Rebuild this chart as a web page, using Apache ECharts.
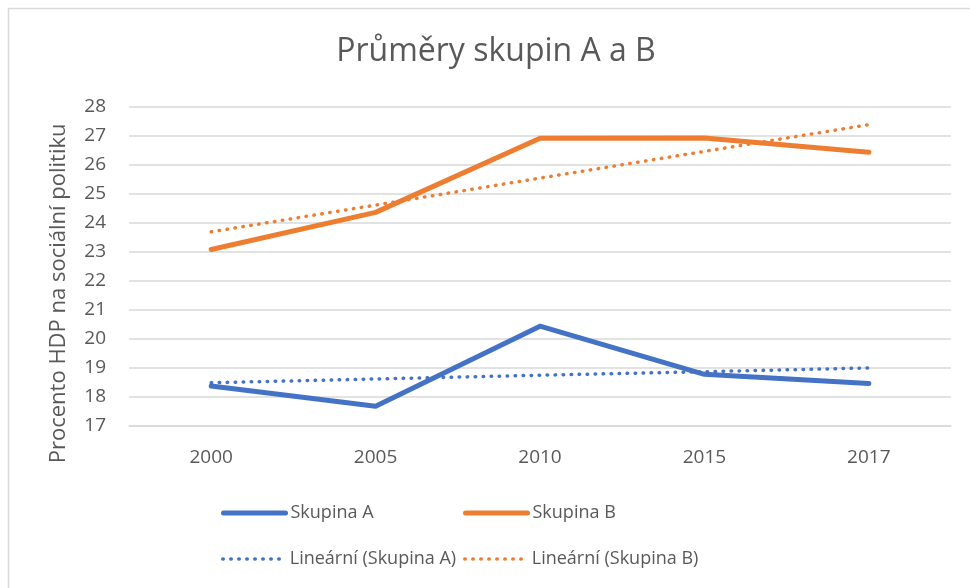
<!DOCTYPE html>
<html><head><meta charset="utf-8">
<script src="https://cdn.jsdelivr.net/npm/echarts@6/dist/echarts.min.js"></script>
<style>html,body{margin:0;padding:0;background:#fff}#c{width:970px;height:588px}</style>
</head><body><div id="c"></div>
<script>
const categories = ['2000','2005','2010','2015','2017'];
const skupinaA = [18.38, 17.68, 20.44, 18.78, 18.46];
const skupinaB = [23.08, 24.36, 26.91, 26.92, 26.43];
const trendA = [18.49, 18.62, 18.75, 18.87, 19.00];
const trendB = [23.69, 24.61, 25.54, 26.46, 27.38];
const yTicks = {min: 17, max: 28, interval: 1};
const names = ['Skupina A', 'Skupina B', 'Lineární (Skupina A)', 'Lineární (Skupina B)'];

const FONT = 'Open Sans';
const TXT = '#595959';
const BLUE = '#4472C4', ORANGE = '#ED7D31';
const chart = echarts.init(document.getElementById('c'), null, {renderer: 'canvas'});
const dot = {type: [0.5, 7.5], cap: 'round', width: 3.5};
const solid = {type: 'solid', cap: 'round', width: 5};
function legend(name, left, top, color, ls) {
  return {data: [name], left: left, top: top, itemWidth: 62, itemHeight: 14, itemGap: 0,
    textStyle: {fontFamily: FONT, fontSize: 18, color: TXT},
    itemStyle: {color: 'rgba(0,0,0,0)', borderWidth: 0, opacity: 0},
    lineStyle: Object.assign({color: color}, ls),
    selectedMode: false};
}
chart.setOption({
  animation: false,
  backgroundColor: '#fff',
  graphic: [{type: 'rect', shape: {x: 8.5, y: 8.5, width: 1000, height: 700},
    style: {fill: 'none', stroke: '#d9d9d9', lineWidth: 1.5}, silent: true}],
  title: {text: 'Průměry skupin A a B', left: 491, top: 31, textAlign: 'center',
    textStyle: {fontFamily: FONT, fontSize: 32, fontWeight: 'normal', color: TXT}},
  legend: [legend(names[0], 216, 499, BLUE, solid), legend(names[1], 458, 499, ORANGE, solid),
           legend(names[2], 216, 545, BLUE, dot), legend(names[3], 458, 545, ORANGE, dot)],
  grid: {left: 129, right: 19, top: 106.7, bottom: 162, containLabel: false},
  xAxis: {type: 'category', data: categories, boundaryGap: true,
    axisLine: {show: true, lineStyle: {color: '#d9d9d9', width: 1.5}},
    axisTick: {show: false},
    axisLabel: {fontFamily: FONT, fontSize: 19, color: TXT, margin: 22}},
  yAxis: {type: 'value', min: yTicks.min, max: yTicks.max, interval: yTicks.interval,
    axisLine: {show: false}, axisTick: {show: false},
    splitLine: {lineStyle: {color: '#d9d9d9', width: 1.5}},
    axisLabel: {fontFamily: FONT, fontSize: 19, color: TXT, margin: 23},
    name: 'Procento HDP na sociální politiku', nameLocation: 'middle', nameRotate: 90, nameGap: 59,
    nameTextStyle: {fontFamily: FONT, fontSize: 22, color: TXT, padding: [0, 54, 0, 0]}},
  series: [
    {name: names[0], type: 'line', data: skupinaA, symbol: 'none', z: 3,
      lineStyle: {color: BLUE, width: 5, cap: 'round', join: 'round'}, itemStyle: {color: BLUE}},
    {name: names[1], type: 'line', data: skupinaB, symbol: 'none', z: 3,
      lineStyle: {color: ORANGE, width: 5, cap: 'round', join: 'round'}, itemStyle: {color: ORANGE}},
    {name: names[2], type: 'line', data: trendA, symbol: 'none', z: 4,
      lineStyle: Object.assign({color: BLUE}, dot), itemStyle: {color: BLUE}},
    {name: names[3], type: 'line', data: trendB, symbol: 'none', z: 4,
      lineStyle: Object.assign({color: ORANGE}, dot), itemStyle: {color: ORANGE}}
  ]
});
</script></body></html>
